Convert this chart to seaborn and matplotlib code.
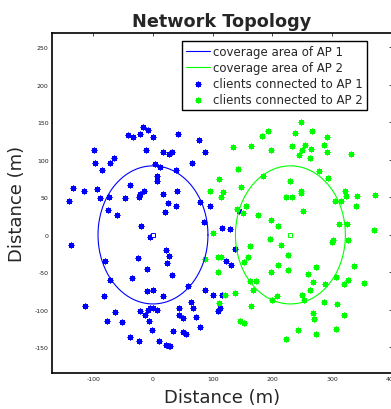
"""
Network topology: two access points, their coverage circles and the clients attached to each.
"""
import numpy as np
import pandas as pd
import matplotlib
matplotlib.use('Agg')
import matplotlib.pyplot as plt
import seaborn as sns

# --- Data ---

AP_LABELS = ['AP 1', 'AP 2']
AP_X = [0, 230]
AP_Y = [0, 0]
AP_RADIUS = [92, 92]
AP_COLORS = ['#0000ff', '#00ff00']

blue_x = [-99, -97, -85, -72, -65, -12, 17, 26, 32, 4, 11, 7, 6, 38, 66, 77,
          -134, -115, -140, -93, -88, -74, -75, -60, -46, -38, -23, -22, -15, 17, 25, 40, 38, 20, -20, -5, 78,
          -138, -80, -25, -10, 21, 27, 24, 32, -35,
          -114, -82, -72, -77, -64, -52, -38, -23, -21, -13, -10, 0, -8, -5, 0, 7, -7, -2, 10, 22,
          26, 29, 17, 34, 44, 43, 51, 51, 55, 59, 64, 67, 72, 78, 87, 101, 108, 112, 116,
          -17, -9, -22, -42, -33, 0, 42, 87, 95, 144, 85, 115, 129, 138, 123, 130]
blue_y = [113, 96, 86, 96, 103, 113, 111, 108, 110, 95, 90, 79, 72, 86, 96, 126,
          63, 58, 45, 61, 49, 50, 33, 26, 49, 66, 50, 55, 59, 54, 43, 59, 39, 30, 12, -3, 44,
          -14, -35, -31, -45, -20, -28, -37, -54, -57,
          -95, -81, -60, -115, -103, -116, -136, -141, -102, -107, -75, -73, -100, -97, -97, -100, -115, -127, -142, -147,
          -148, -148, -82, -128, -97, -107, -111, -130, -132, -68, -90, -98, -110, -123, -73, -80, -102, -98, -80,
          144, 140, 135, 133, 131, 131, 135, 111, 39, 32, 17, 9, 8, -19, -35, -40]

green_x = [134, 164, 198, 232, 254, 250, 264, 287, 292, 244, 262, 332,
           248, 238, 266, 292, 192, 182,
           143, 111, 184, 278, 293, 230,
           96, 118, 147, 113, 222, 233, 247, 248,
           321, 323, 342, 372, 304, 315, 339,
           155, 140, 150, 175, 251, 197, 210, 100, 311, 324, 370,
           195, 214, 300, 302, 327, 162, 226, 159, 153, 108, 114, 87, 210, 226, 273, 336, 108, 197, 260, 307,
           110, 120, 137, 162, 173, 167, 146, 153, 164, 200, 208, 222, 242, 250, 252, 262, 268, 268,
           270, 273, 286, 288, 308, 307, 319, 320, 326, 353]
green_y = [117, 118, 113, 118, 120, 113, 115, 120, 111, 106, 102, 108,
           150, 136, 138, 131, 138, 132,
           88, 74, 78, 85, 76, 72,
           59, 57, 64, 50, 51, 50, 58, 56,
           59, 52, 52, 53, 45, 45, 39,
           39, 35, 29, 27, 32, 20, 12, 2, 14, 15, 6,
           -5, -14, -9, -7, -7, -15, -27, -30, -36, -30, -29, -32, -40, -47, -43, -42, -50, -50, -52, -56,
           -91, -80, -77, -62, -62, -73, -115, -117, -95, -87, -82, -139, -127, -80, -87, -74, -63, -104,
           -112, -132, -89, -66, -92, -126, -107, -65, -60, -64]

X_TICKS = [-100, 0, 100, 200, 300, 400]
Y_TICKS = [-150, -100, -50, 0, 50, 100, 150, 200, 250]


def main():
    sns.set_theme(style='white')
    plt.rcParams['font.family'] = ['DejaVu Sans']
    plt.rcParams['axes.unicode_minus'] = False

    fig = plt.figure(figsize=(3.91, 4.10), dpi=100)
    ax = fig.add_axes([52 / 391, 36 / 410, 340 / 391, 340 / 410])

    # coverage circles
    theta = np.linspace(0, 2 * np.pi, 200)
    for label, cx, cy, r, c in zip(AP_LABELS, AP_X, AP_Y, AP_RADIUS, AP_COLORS):
        ax.plot(cx + r * np.cos(theta), cy + r * np.sin(theta), color=c, lw=0.8,
                label=f'coverage area of {label}')

    clients = [pd.DataFrame({'x': blue_x, 'y': blue_y}), pd.DataFrame({'x': green_x, 'y': green_y})]
    for label, df, c in zip(AP_LABELS, clients, AP_COLORS):
        sns.scatterplot(data=df, x='x', y='y', ax=ax, marker=(8, 2, 0), s=11, color=c,
                        linewidth=1.0, label=f'clients connected to {label}')

    # access point positions
    for cx, cy, c in zip(AP_X, AP_Y, AP_COLORS):
        ax.plot([cx], [cy], marker='s', ms=3, mfc='white', mec=c, mew=0.7, ls='none')

    ax.set_xlim(-169, 400)
    ax.set_ylim(-184, 269)
    ax.set_xticks(X_TICKS)
    ax.set_yticks(Y_TICKS)
    ax.tick_params(direction='in', length=2.5, width=0.6, labelsize=4.5, labelcolor='#222222',
                   top=True, right=True, pad=2.5)
    for sp in ax.spines.values():
        sp.set_color('black')
        sp.set_linewidth(1.2)

    ax.set_title('Network Topology', fontsize=12.7, fontweight='bold', pad=5)
    ax.set_xlabel('Distance (m)', fontsize=13, labelpad=5)
    ax.set_ylabel('Distance (m)', fontsize=13, labelpad=6)

    leg = ax.legend(loc='upper right', bbox_to_anchor=(367 / 391, 1 - 42 / 410),
                    bbox_transform=fig.transFigure, borderaxespad=0, fontsize=8.5,
                    frameon=True, fancybox=False, edgecolor='black', framealpha=1,
                    handlelength=2.0, handletextpad=0.3, labelspacing=0.25, borderpad=0.35,
                    scatterpoints=1)
    leg.get_frame().set_linewidth(1.0)

    fig.savefig('out.png', dpi=100)


if __name__ == '__main__':
    main()
